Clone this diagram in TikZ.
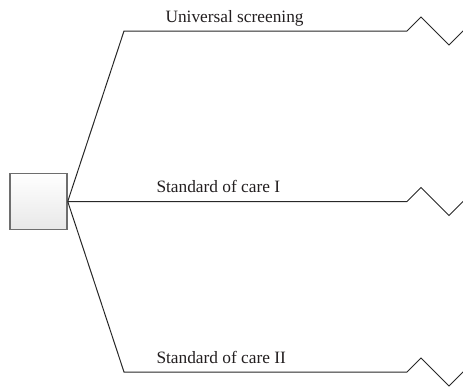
\documentclass[tikz,border=0pt]{standalone}
\usepackage{fontspec}
\setmainfont{Liberation Serif}

\tikzset{every picture/.style={line width=0.75pt}}
\tikzset{
  branch/.style={draw={rgb, 255:red, 40; green, 40; blue, 40 }},
  brlabel/.style={anchor=base west, inner sep=0.75pt, font=\fontsize{13}{15}\selectfont, text={rgb, 255:red, 35; green, 31; blue, 32 }}
}

\begin{document}
\begin{tikzpicture}[x=0.75pt,y=0.75pt,yscale=-1,xscale=1]
\useasboundingbox (0,0) rectangle (463,387);
%Shape: Square [id:decision]
\node [draw={rgb, 255:red, 110; green, 110; blue, 110 }, line width=1.1pt, top color=white, bottom color={rgb, 255:red, 232; green, 232; blue, 232 }, minimum width=42.75pt, minimum height=42pt, inner sep=0pt] (decision) at (38.5,201.5) {};

% Branch ends
\coordinate (usKnee) at (124,31);
\coordinate (usEnd) at (407,31);
\coordinate (socKnee) at (124,201.5);
\coordinate (socEnd) at (407,201.5);
\coordinate (socIIKnee) at (124,372);
\coordinate (socIIEnd) at (407,372);

% Branches
\draw [branch] (decision.east) -- (usKnee) -- (usEnd) -- ++(14,-14) -- ++(28,28) -- ++(16,-16);
\draw [branch] (decision.east) -- (socEnd) -- ++(14,-14) -- ++(28,28) -- ++(16,-16);
\draw [branch] (decision.east) -- (socIIKnee) -- (socIIEnd) -- ++(14,-14) -- ++(28,28) -- ++(16,-16);

% Text Node
\node [brlabel] (usLabel) at (164,22) {Universal screening};
% Text Node
\node [brlabel] (socLabel) at (155,192) {Standard of care I};
% Text Node
\node [brlabel] (socIILabel) at (155,363) {Standard of care II};
\end{tikzpicture}
\end{document}
